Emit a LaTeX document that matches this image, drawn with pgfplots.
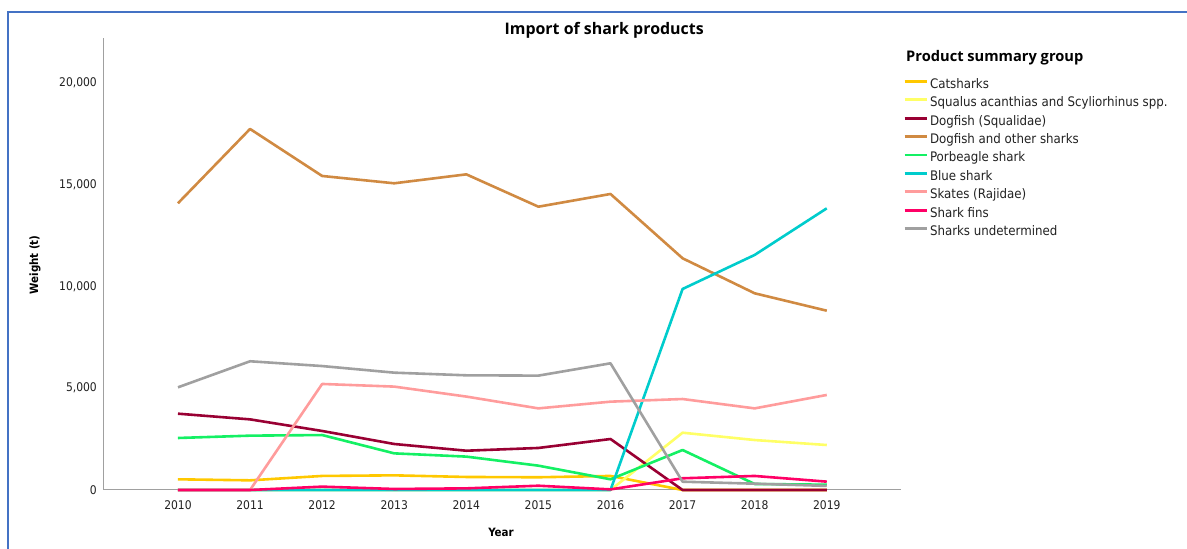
\documentclass[border=0pt]{standalone}
\usepackage{fontspec}
\setmainfont{DejaVu Sans Condensed}
\newfontfamily\titlefont{Open Sans}
\usepackage{pgfplots}
\pgfplotsset{compat=1.18}
\definecolor{cCat}{HTML}{FFC800}
\definecolor{cSqu}{HTML}{FFFF66}
\definecolor{cDog}{HTML}{990033}
\definecolor{cDogO}{HTML}{D08A42}
\definecolor{cPor}{HTML}{14F064}
\definecolor{cBlue}{HTML}{00CCCC}
\definecolor{cSkate}{HTML}{FF9C9C}
\definecolor{cFin}{HTML}{FF0066}
\definecolor{cUnd}{HTML}{A0A0A0}
\definecolor{frameblue}{HTML}{4472C4}
\definecolor{axisgray}{HTML}{A0A0A0}
\definecolor{txt}{HTML}{222222}
\begin{document}
\begin{tikzpicture}[x=1bp,y=1bp]
\useasboundingbox (0,0) rectangle (1187,549);
\draw[frameblue, line width=2bp] (8,0) -- (8,537) -- (1187,537);
\begin{axis}[
  at={(103bp,59bp)}, anchor=south west,
  width=798bp, height=452bp, scale only axis,
  xmin=2008.96, xmax=2020.03, ymin=0, ymax=22210,
  axis x line=bottom, axis y line=left,
  axis line style={draw=axisgray, line width=1bp, -},
  major tick length=0pt,
  xtick={2010,2011,...,2019},
  ytick={0,5000,10000,15000,20000},
  xticklabel style={/pgf/number format/1000 sep=, inner sep=0pt, yshift=-10bp, font=\fontsize{12}{14}\selectfont, text=txt},
  yticklabel style={/pgf/number format/1000 sep={,}, inner sep=0pt, xshift=-6bp, font=\fontsize{12}{14}\selectfont, text=txt},
  /pgf/number format/assume math mode=true,
  scaled y ticks=false,
  clip=false,
  title={Import of shark products},
  title style={at={(rel axis cs:0.628,1.0243)}, anchor=center, yshift=-9bp, font=\titlefont\bfseries\fontsize{16}{18}\selectfont},
  xlabel={Year},
  xlabel style={at={(rel axis cs:0.4987,-0.0929)}, anchor=center, font=\bfseries\fontsize{11.5}{13}\selectfont},
  ylabel={Weight (t)},
  ylabel style={at={(rel axis cs:-0.0852,0.498)}, anchor=center, font=\bfseries\fontsize{11.5}{13}\selectfont},
  every axis plot/.append style={line width=2.6bp, line join=round},
  legend image code/.code={\draw[#1, line width=2.8bp] (0bp,4bp) -- (22bp,4bp);},
  legend cell align=left,
  legend style={draw=none, fill=none, at={(rel axis cs:1.0025,0.909)}, anchor=north west,
    inner sep=0pt, row sep=6.4bp, column sep=2bp,
    nodes={inner sep=0pt, text height=9bp, text depth=3bp, text=txt},
    font=\fontsize{13.2}{15}\selectfont},
]
\addplot[cCat] coordinates {(2010,525)(2011,475)(2012,690)(2013,720)(2014,640)(2015,625)(2016,690)(2017,0)(2018,0)(2019,0)};
\addlegendentry{Catsharks}
\addplot[cSqu] coordinates {(2010,0)(2011,0)(2012,0)(2013,0)(2014,0)(2015,0)(2016,0)(2017,2815)(2018,2455)(2019,2210)};
\addlegendentry{Squalus acanthias and Scyliorhinus spp.}
\addplot[cDog] coordinates {(2010,3750)(2011,3470)(2012,2900)(2013,2260)(2014,1930)(2015,2065)(2016,2505)(2017,0)(2018,0)(2019,0)};
\addlegendentry{Dogfish (Squalidae)}
\addplot[cDogO] coordinates {(2010,14090)(2011,17740)(2012,15430)(2013,15070)(2014,15510)(2015,13920)(2016,14545)(2017,11385)(2018,9665)(2019,8810)};
\addlegendentry{Dogfish and other sharks}
\addplot[cPor] coordinates {(2010,2555)(2011,2670)(2012,2700)(2013,1800)(2014,1640)(2015,1195)(2016,525)(2017,1965)(2018,295)(2019,260)};
\addlegendentry{Porbeagle shark}
\addplot[cBlue] coordinates {(2010,0)(2011,0)(2012,0)(2013,0)(2014,0)(2015,0)(2016,0)(2017,9877)(2018,11550)(2019,13840)};
\addlegendentry{Blue shark}
\addplot[cSkate] coordinates {(2010,0)(2011,0)(2012,5210)(2013,5080)(2014,4590)(2015,4010)(2016,4340)(2017,4470)(2018,4010)(2019,4670)};
\addlegendentry{Skates (Rajidae)}
\addplot[cFin] coordinates {(2010,0)(2011,0)(2012,165)(2013,50)(2014,80)(2015,210)(2016,30)(2017,575)(2018,690)(2019,410)};
\addlegendentry{Shark fins}
\addplot[cUnd] coordinates {(2010,5045)(2011,6325)(2012,6090)(2013,5765)(2014,5635)(2015,5620)(2016,6225)(2017,408)(2018,310)(2019,200)};
\addlegendentry{Sharks undetermined}
\node[anchor=west, inner sep=0pt, font=\titlefont\bfseries\fontsize{14.7}{17}\selectfont] at (rel axis cs:1.0063,0.9558) {Product summary group};
\end{axis}
\end{tikzpicture}
\end{document}
